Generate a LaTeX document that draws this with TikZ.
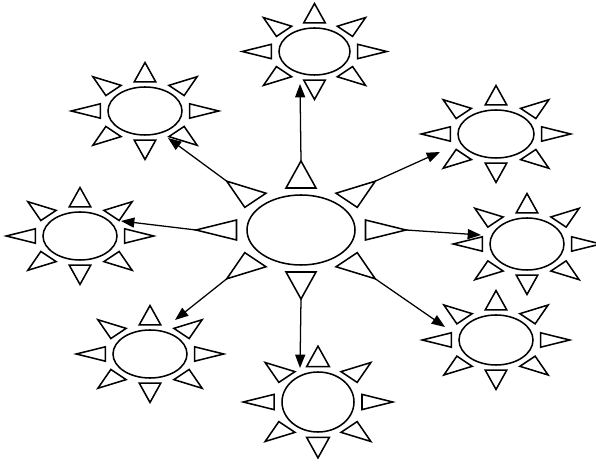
\documentclass[tikz,border=0pt]{standalone}
\usetikzlibrary{shapes.geometric,arrows.meta,calc}
\tikzset{
  sunbody/.style={draw, ellipse, line width=1.15pt, inner sep=0pt},
  ray/.style={draw, line width=1.15pt, line join=miter, fill=white},
  link/.style={line width=0.95pt, -{Triangle[length=10pt,width=7.5pt]}},
}
\newcommand{\mksun}[6]{% #1 name, #2 cx, #3 cy, #4 a(px), #5 b(px), #6 scale of rays
  \node[sunbody, minimum width={2*#4*0.75pt}, minimum height={2*#5*0.75pt}] (#1) at (#2,#3) {};
  \foreach \ang in {0,45,...,315}{
    \pgfmathsetmacro{\sunCa}{cos(\ang)}
    \pgfmathsetmacro{\sunSa}{sin(\ang)}
    \pgfmathsetmacro{\sunBx}{(#4/1.5+7*#6)*\sunCa}
    \pgfmathsetmacro{\sunBy}{(#5+7*#6)*\sunSa}
    \pgfmathsetmacro{\sunAx}{(\sunBx+27*#6*\sunCa)*1.5}
    \pgfmathsetmacro{\sunAy}{\sunBy+27*#6*\sunSa}
    \pgfmathsetmacro{\sunPx}{(\sunBx-10*#6*\sunSa)*1.5}
    \pgfmathsetmacro{\sunPy}{\sunBy+10*#6*\sunCa}
    \pgfmathsetmacro{\sunQx}{(\sunBx+10*#6*\sunSa)*1.5}
    \pgfmathsetmacro{\sunQy}{\sunBy-10*#6*\sunCa}
    \coordinate (#1-\ang) at ($(#1.center)+(\sunAx,\sunAy)$);
    \draw[ray] ($(#1.center)+(\sunPx,\sunPy)$) -- (#1-\ang) -- ($(#1.center)+(\sunQx,\sunQy)$) -- cycle;
  }
}
\begin{document}
\begin{tikzpicture}[x=0.75pt,y=-0.75pt]
\fill[white] (0,0) rectangle (596,466);
\useasboundingbox (0,0) rectangle (596,466);
% central sun
\mksun{C}{301}{230}{54}{35}{1}
% satellites
\mksun{T}{314.5}{51.5}{35.5}{23.5}{0.72}
\mksun{UL}{145}{111}{37}{24}{0.72}
\mksun{UR}{496}{134}{38}{24}{0.72}
\mksun{L}{80}{236}{37}{24}{0.72}
\mksun{R}{527}{244}{37}{26}{0.72}
\mksun{LL}{150}{354}{37}{24}{0.72}
\mksun{B}{318}{402}{36}{30}{0.76}
\mksun{LR}{496}{340}{37}{25}{0.72}
% arrow tips
\coordinate (tipT) at (300,84);
\coordinate (tipUL) at (168,138);
\coordinate (tipUR) at (440,152);
\coordinate (tipL) at (121,221);
\coordinate (tipR) at (481,235);
\coordinate (tipLL) at (175,320);
\coordinate (tipB) at (300,368);
\coordinate (tipLR) at (445,327);
% connectors
\draw[link] (C-270) -- (tipT);
\draw[link] (C-225) -- (tipUL);
\draw[link] (C-315) -- (tipUR);
\draw[link] (C-180) -- (tipL);
\draw[link] (C-0) -- (tipR);
\draw[link] (C-135) -- (tipLL);
\draw[link] (C-90) -- (tipB);
\draw[link] (C-45) -- (tipLR);
\end{tikzpicture}
\end{document}
